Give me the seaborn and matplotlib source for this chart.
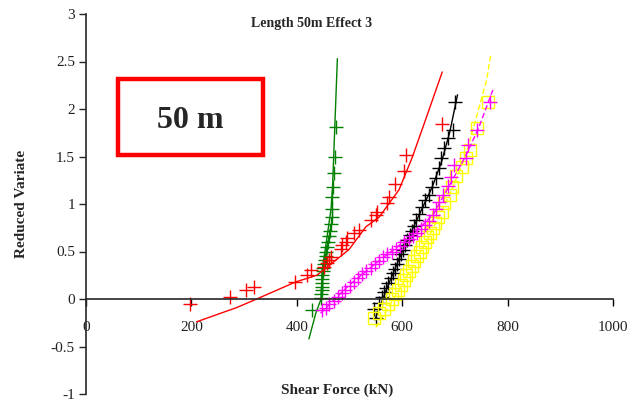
import matplotlib
matplotlib.use("Agg")
import matplotlib.pyplot as plt
import matplotlib.patches as patches
import seaborn as sns

# reduced variate vs shear force (kN)
red_x = [198, 274, 303, 318, 396, 419, 427, 451, 457, 461, 465, 484, 486, 493, 495,
         509, 518, 541, 550, 552, 571, 575, 587, 603, 607, 676]
red_v = [-0.05, 0.02, 0.09, 0.13, 0.18, 0.25, 0.31, 0.34, 0.38, 0.41, 0.44, 0.53, 0.57,
         0.60, 0.64, 0.70, 0.73, 0.83, 0.88, 0.92, 1.01, 1.07, 1.21, 1.35, 1.52, 1.84]
red_fit_x = [210, 286, 328, 398, 438, 499, 531, 556, 594, 619, 642, 676]
red_fit_v = [-0.24, -0.09, 0.01, 0.18, 0.25, 0.52, 0.76, 0.86, 1.15, 1.49, 1.85, 2.39]

green_x = [429, 446, 446, 447, 447, 447, 448, 448, 449, 450, 452, 453, 455, 456, 458,
           460, 462, 463, 465, 466, 467, 467, 468, 470, 472, 475]
green_v = [-0.12, 0.01, 0.05, 0.09, 0.13, 0.17, 0.21, 0.25, 0.29, 0.33, 0.37, 0.41, 0.45,
           0.50, 0.55, 0.60, 0.66, 0.72, 0.79, 0.86, 0.95, 1.07, 1.18, 1.33, 1.50, 1.81]
green_fit_x = [423, 436, 446, 448, 456, 465, 468, 472, 477]
green_fit_v = [-0.42, -0.15, 0.0, 0.3, 0.6, 0.95, 1.2, 1.8, 2.53]

magenta_x = [448, 455, 462, 470, 478, 485, 492, 500, 508, 516, 524, 532, 540, 548, 556,
             564, 572, 580, 588, 596, 604, 612, 620, 628, 636, 644, 651, 658, 664, 670,
             678, 686, 693, 699, 722, 724, 741, 766]
magenta_v = [-0.12, -0.09, -0.05, -0.02, 0.02, 0.06, 0.10, 0.14, 0.18, 0.22, 0.26, 0.30,
             0.33, 0.37, 0.40, 0.44, 0.47, 0.50, 0.53, 0.56, 0.60, 0.63, 0.66, 0.70, 0.74,
             0.78, 0.82, 0.88, 0.95, 1.02, 1.10, 1.19, 1.28, 1.41, 1.48, 1.62, 1.78, 2.07]
magenta_fit_x = [445, 500, 560, 620, 660, 690, 720, 745, 772]
magenta_fit_v = [-0.15, 0.15, 0.42, 0.67, 0.90, 1.20, 1.50, 1.80, 2.20]

black_x = [550, 547, 556, 562, 566, 570, 574, 578, 582, 586, 590, 594, 598, 602, 606,
           610, 614, 618, 622, 627, 632, 638, 644, 650, 657, 664, 670, 674, 680, 686,
           696, 701]
black_v = [-0.20, -0.10, -0.04, 0.02, 0.07, 0.12, 0.17, 0.22, 0.27, 0.32, 0.37, 0.42,
           0.47, 0.52, 0.57, 0.62, 0.67, 0.72, 0.77, 0.83, 0.90, 0.97, 1.04, 1.10, 1.18,
           1.27, 1.38, 1.48, 1.59, 1.69, 1.78, 2.07]
black_fit_x = [548, 570, 600, 630, 657, 675, 690, 705]
black_fit_v = [-0.22, 0.10, 0.50, 0.86, 1.18, 1.45, 1.75, 2.15]

yellow_x = [547, 556, 566, 574, 580, 586, 592, 598, 603, 608, 613, 618, 623, 628, 633,
            638, 643, 648, 653, 658, 663, 668, 676, 680, 690, 695, 703, 714, 722, 728,
            741, 762]
yellow_v = [-0.20, -0.15, -0.10, -0.05, 0.00, 0.05, 0.10, 0.15, 0.20, 0.25, 0.30, 0.35,
            0.40, 0.45, 0.50, 0.55, 0.60, 0.65, 0.70, 0.75, 0.80, 0.86, 0.92, 1.01, 1.10,
            1.18, 1.30, 1.39, 1.48, 1.57, 1.80, 2.07]
yellow_fit_x = [550, 600, 650, 690, 720, 741, 760, 768]
yellow_fit_v = [-0.30, 0.15, 0.65, 1.10, 1.50, 1.92, 2.30, 2.57]

x_ticks = [0, 200, 400, 600, 800, 1000]
y_ticks = [-1, -0.5, 0, 0.5, 1, 1.5, 2, 2.5, 3]
y_tick_labels = ["-1", "-0.5", "0", "0.5", "1", "1.5", "2", "2.5", "3"]

sns.set_style("ticks")
plt.rcParams["font.family"] = ["Liberation Serif", "DejaVu Serif"]

fig = plt.figure(figsize=(6.3, 4.01), dpi=100)
ax = fig.add_axes([86 / 630, 1 - 394 / 401, (613 - 86) / 630, (394 - 14) / 401])


def add_series(px, pv, fx, fv, color, marker="+", ls="-", ms=10, mfc=None):
    sns.lineplot(x=fx, y=fv, color=color, lw=1, ls=ls, sort=False, estimator=None, ax=ax)
    sns.lineplot(x=px, y=pv, color=color, ls="", marker=marker, ms=ms, mew=1,
                 mfc=mfc if mfc else color, mec=color, sort=False, estimator=None, ax=ax)


add_series(green_x, green_v, green_fit_x, green_fit_v, "#008000")
add_series(red_x, red_v, red_fit_x, red_fit_v, "#ff0000")
add_series(black_x, black_v, black_fit_x, black_fit_v, "#000000")
add_series(yellow_x, yellow_v, yellow_fit_x, yellow_fit_v, "#ffff00", marker="s",
           ls=(0, (4, 2)), ms=8, mfc="none")
add_series(magenta_x, magenta_v, magenta_fit_x, magenta_fit_v, "#ff00ff", ls=(0, (4, 2)))

ax.set_xlim(0, 1000)
ax.set_ylim(-1, 3)
ax.set_xticks(x_ticks)
ax.set_xticklabels([str(t) for t in x_ticks])
ax.set_yticks(y_ticks)
ax.set_yticklabels(y_tick_labels)
ax.spines["top"].set_visible(False)
ax.spines["right"].set_visible(False)
ax.spines["bottom"].set_position(("data", 0))
for s in ("left", "bottom"):
    ax.spines[s].set_linewidth(1.2)
ax.tick_params(axis="x", direction="out", length=5, width=1, pad=11, labelsize=11,
               colors="#000000", labelcolor="#222222")
ax.tick_params(axis="y", direction="out", length=5, width=1, pad=3, labelsize=11,
               labelcolor="#222222")
ax.set_xlabel("")
ax.set_ylabel("")
ax.patch.set_alpha(0)

fig.text(312 / 630, 1 - 23 / 401, "Length 50m Effect 3", ha="center", va="center",
         fontsize=10, fontweight="bold")
fig.text(337 / 630, 1 - 390 / 401, "Shear Force (kN)", ha="center", va="center",
         fontsize=11, fontweight="bold")
fig.text(22 / 630, 1 - 204 / 401, "Reduced Variate", ha="center", va="center",
         rotation=90, fontsize=11, fontweight="bold")

box = patches.Rectangle((118 / 630, 1 - 155 / 401), (263 - 118) / 630, (155 - 79) / 401,
                        transform=fig.transFigure, fill=False, ec="#ff0000", lw=3.2)
fig.patches.append(box)
fig.text(190 / 630, 1 - 120 / 401, "50 m", ha="center", va="center",
         fontsize=23, fontweight="bold")

fig.savefig("out.png", dpi=100)
plt.close(fig)
